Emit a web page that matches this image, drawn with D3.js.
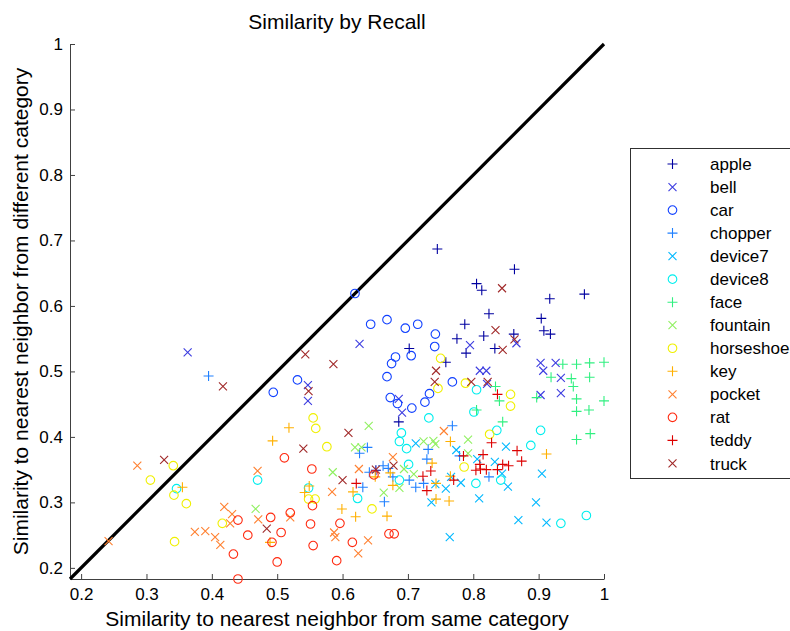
<!DOCTYPE html>
<html>
<head>
<meta charset="utf-8">
<script src="https://cdn.jsdelivr.net/npm/d3@7"></script>
<style>
  body { margin: 0; background: #fff; }
  text { font-family: "Liberation Sans", Arial, sans-serif; }
</style>
</head>
<body>
<script>

// categories, marker shapes and colours (jet-like)
const categories = ['apple', 'bell', 'car', 'chopper', 'device7', 'device8', 'face',
    'fountain', 'horseshoe', 'key', 'pocket', 'rat', 'teddy', 'truck'];
const markers = ['+', 'x', 'o', '+', 'x', 'o', '+', 'x', 'o', '+', 'x', 'o', '+', 'x'];
const colors = ['#0000a0', '#3c3ce0', '#1040ff', '#2080ff', '#00b8ff', '#00eeee', '#30f080',
    '#90f060', '#f0f000', '#ffb000', '#ff8030', '#ff2a10', '#dd0000', '#a02828'];

// [same category, different category]
const apple = [[0.745,0.687],[0.863,0.656],[0.805,0.634],[0.813,0.624],[0.917,0.611],[0.970,0.618],
    [0.824,0.588],[0.904,0.581],[0.908,0.562],[0.918,0.557],[0.787,0.572],[0.775,0.550],[0.816,0.554],
    [0.789,0.528],[0.833,0.535],[0.862,0.557],[0.702,0.535],[0.758,0.514],[0.686,0.423],[0.651,0.349]];
const bell = [[0.363,0.529],[0.547,0.479],[0.547,0.455],[0.626,0.542],[0.795,0.540],[0.810,0.501],
    [0.820,0.501],[0.821,0.481],[0.686,0.458],[0.691,0.437],[0.866,0.543],[0.903,0.513],[0.926,0.513],
    [0.907,0.501],[0.934,0.490],[0.934,0.467],[0.903,0.464]];
const car = [[0.619,0.619],[0.494,0.468],[0.531,0.487],[0.643,0.572],[0.668,0.579],[0.696,0.566],
    [0.715,0.572],[0.742,0.557],[0.741,0.538],[0.705,0.524],[0.681,0.522],[0.675,0.512],[0.668,0.492],
    [0.768,0.484],[0.673,0.460],[0.684,0.451],[0.706,0.444],[0.726,0.453],[0.733,0.466]];
const chopper = [[0.395,0.493],[0.768,0.417],[0.638,0.384],[0.626,0.375],[0.731,0.381],[0.729,0.366],
    [0.779,0.371],[0.641,0.346],[0.662,0.356],[0.670,0.352],[0.677,0.339],[0.702,0.334],[0.724,0.329],
    [0.712,0.323],[0.824,0.339],[0.631,0.323],[0.664,0.301]];
const device7 = [[0.712,0.390],[0.774,0.380],[0.850,0.385],[0.806,0.366],[0.833,0.362],[0.844,0.344],
    [0.853,0.324],[0.766,0.339],[0.781,0.330],[0.758,0.321],[0.742,0.328],[0.905,0.344],[0.809,0.306],
    [0.896,0.300],[0.869,0.273],[0.912,0.269],[0.764,0.247],[0.736,0.300]];
const device8 = [[0.346,0.321],[0.470,0.334],[0.548,0.322],[0.623,0.306],[0.687,0.393],[0.690,0.406],
    [0.698,0.382],[0.701,0.358],[0.687,0.334],[0.732,0.429],[0.801,0.438],[0.805,0.472],[0.836,0.410],
    [0.903,0.410],[0.888,0.387],[0.842,0.334],[0.804,0.329],[0.934,0.268],[0.973,0.280]];
const face = [[0.958,0.396],[0.979,0.405],[0.937,0.511],[0.958,0.511],[0.978,0.513],[1.000,0.514],
    [0.919,0.491],[0.950,0.489],[0.978,0.491],[0.953,0.477],[0.897,0.460],[0.958,0.458],[1.000,0.455],
    [0.834,0.477],[0.840,0.455],[0.958,0.439],[0.977,0.441],[0.845,0.423],[0.805,0.441]];
const fountain = [[0.467,0.290],[0.619,0.384],[0.629,0.384],[0.724,0.393],[0.739,0.394],[0.742,0.389],
    [0.585,0.346],[0.709,0.343],[0.663,0.315],[0.687,0.322],[0.792,0.396],[0.792,0.375],[0.640,0.417],
    [0.694,0.351]];
const horseshoe = [[0.341,0.356],[0.306,0.334],[0.342,0.311],[0.361,0.298],[0.416,0.268],[0.343,0.240],
    [0.576,0.385],[0.555,0.429],[0.559,0.413],[0.548,0.305],[0.558,0.305],[0.645,0.290],[0.750,0.520],
    [0.746,0.474],[0.788,0.482],[0.825,0.404],[0.786,0.354],[0.857,0.465],[0.857,0.447]];
const key = [[0.355,0.323],[0.489,0.239],[0.493,0.394],[0.518,0.414],[0.549,0.325],[0.542,0.315],
    [0.616,0.316],[0.599,0.290],[0.620,0.278],[0.668,0.279],[0.650,0.339],[0.673,0.345],[0.677,0.326],
    [0.737,0.360],[0.765,0.393],[0.765,0.340],[0.763,0.302],[0.743,0.305],[0.743,0.329],[0.912,0.374]];
const pocket = [[0.286,0.356],[0.242,0.241],[0.470,0.348],[0.419,0.293],[0.431,0.282],[0.471,0.274],
    [0.428,0.268],[0.374,0.255],[0.390,0.256],[0.405,0.247],[0.413,0.235],[0.520,0.277],[0.584,0.316],
    [0.587,0.254],[0.589,0.247],[0.639,0.242],[0.624,0.222],[0.625,0.351],[0.677,0.369],[0.755,0.409]];
const rat = [[0.440,0.273],[0.455,0.250],[0.433,0.221],[0.440,0.183],[0.490,0.277],[0.511,0.368],
    [0.553,0.351],[0.554,0.295],[0.520,0.284],[0.551,0.267],[0.596,0.268],[0.506,0.254],[0.492,0.239],
    [0.555,0.234],[0.615,0.239],[0.671,0.252],[0.679,0.252],[0.500,0.209],[0.591,0.211],[0.648,0.342]];
const teddy = [[0.621,0.329],[0.723,0.340],[0.735,0.348],[0.729,0.318],[0.770,0.334],[0.828,0.391],
    [0.785,0.371],[0.815,0.373],[0.867,0.379],[0.874,0.363],[0.810,0.358],[0.811,0.351],[0.804,0.349],
    [0.820,0.350],[0.845,0.358],[0.854,0.356],[0.837,0.350],[0.837,0.465]];
const truck = [[0.327,0.365],[0.417,0.477],[0.484,0.260],[0.540,0.382],[0.543,0.526],[0.586,0.511],
    [0.548,0.470],[0.600,0.334],[0.678,0.356],[0.651,0.350],[0.609,0.406],[0.743,0.501],[0.741,0.484],
    [0.797,0.484],[0.822,0.484],[0.834,0.563],[0.863,0.549],[0.845,0.533],[0.844,0.627]];

const series = [apple, bell, car, chopper, device7, device8, face, fountain, horseshoe, key, pocket, rat, teddy, truck];

const tickValues = [0.2, 0.3, 0.4, 0.5, 0.6, 0.7, 0.8, 0.9, 1];
const tickLabels = ['0.2', '0.3', '0.4', '0.5', '0.6', '0.7', '0.8', '0.9', '1'];
const axisMin = 0.183, axisMax = 1;


let width = 790, height = 631;
let plot = {left: 70, right: 604, top: 44, bottom: 579};

let svg = d3.select('body').append('svg')
    .attr('width', width)
    .attr('height', height);

let x = d3.scaleLinear().domain([axisMin, axisMax]).range([plot.left, plot.right]);
let y = d3.scaleLinear().domain([axisMin, axisMax]).range([plot.bottom, plot.top]);

let fmt = d => tickLabels[tickValues.indexOf(d)];

// axes, ticks pointing inward
let xAxis = svg.append('g')
    .attr('transform', `translate(0,${plot.bottom})`)
    .call(d3.axisBottom(x).tickValues(tickValues).tickFormat(fmt).tickSizeInner(-5).tickSizeOuter(0).tickPadding(9));

let yAxis = svg.append('g')
    .attr('transform', `translate(${plot.left},0)`)
    .call(d3.axisLeft(y).tickValues(tickValues).tickFormat(fmt).tickSizeInner(-5).tickSizeOuter(0).tickPadding(7));

[xAxis, yAxis].forEach(a => {
    a.attr('font-family', null).attr('font-size', null);
    a.select('.domain').attr('stroke', '#404040');
    a.selectAll('.tick line').attr('stroke', '#404040');
    a.selectAll('.tick text').attr('font-size', '17px').attr('fill', '#000');
});

// diagonal y = x
svg.append('line')
    .attr('x1', x(axisMin)).attr('y1', y(axisMin))
    .attr('x2', x(1)).attr('y2', y(1))
    .attr('stroke', '#000')
    .attr('stroke-width', 3.2);

// markers
function markerPath(m) {
    if (m === '+') return 'M-5,0H5M0,-5V5';
    if (m === 'x') return 'M-4,-4L4,4M-4,4L4,-4';
    return d3.arc()({innerRadius: 0, outerRadius: 4.3, startAngle: 0, endAngle: 2 * Math.PI});
}

series.forEach((pts, i) => {
    svg.append('g').selectAll('path')
        .data(pts)
        .enter().append('path')
        .attr('transform', d => `translate(${x(d[0])},${y(d[1])})`)
        .attr('d', markerPath(markers[i]))
        .attr('fill', 'none')
        .attr('stroke', colors[i])
        .attr('stroke-width', 1.1);
});

// titles
svg.append('text')
    .attr('x', (plot.left + plot.right) / 2)
    .attr('y', 29)
    .attr('text-anchor', 'middle')
    .attr('font-size', '21px')
    .text('Similarity by Recall');

svg.append('text')
    .attr('x', (plot.left + plot.right) / 2)
    .attr('y', 626)
    .attr('text-anchor', 'middle')
    .attr('font-size', '21px')
    .text('Similarity to nearest neighbor from same category');

svg.append('text')
    .attr('transform', `translate(28,${(plot.top + plot.bottom) / 2}) rotate(-90)`)
    .attr('text-anchor', 'middle')
    .attr('font-size', '21px')
    .text('Similarity to nearest neighbor from different category');

// legend
let legend = svg.append('g');
legend.append('rect')
    .attr('x', 630.5).attr('y', 148.5)
    .attr('width', 170).attr('height', 330)
    .attr('fill', '#fff')
    .attr('stroke', '#303030');

let items = legend.selectAll('g.item')
    .data(categories)
    .enter().append('g')
    .attr('class', 'item')
    .attr('transform', (d, i) => `translate(672.5,${164 + i * 23.03})`);

items.append('path')
    .attr('d', (d, i) => markerPath(markers[i]))
    .attr('fill', 'none')
    .attr('stroke', (d, i) => colors[i])
    .attr('stroke-width', 1.1);

items.append('text')
    .attr('x', 37.5)
    .attr('dy', '0.36em')
    .attr('font-size', '17px')
    .text(d => d);

</script>
</body>
</html>
